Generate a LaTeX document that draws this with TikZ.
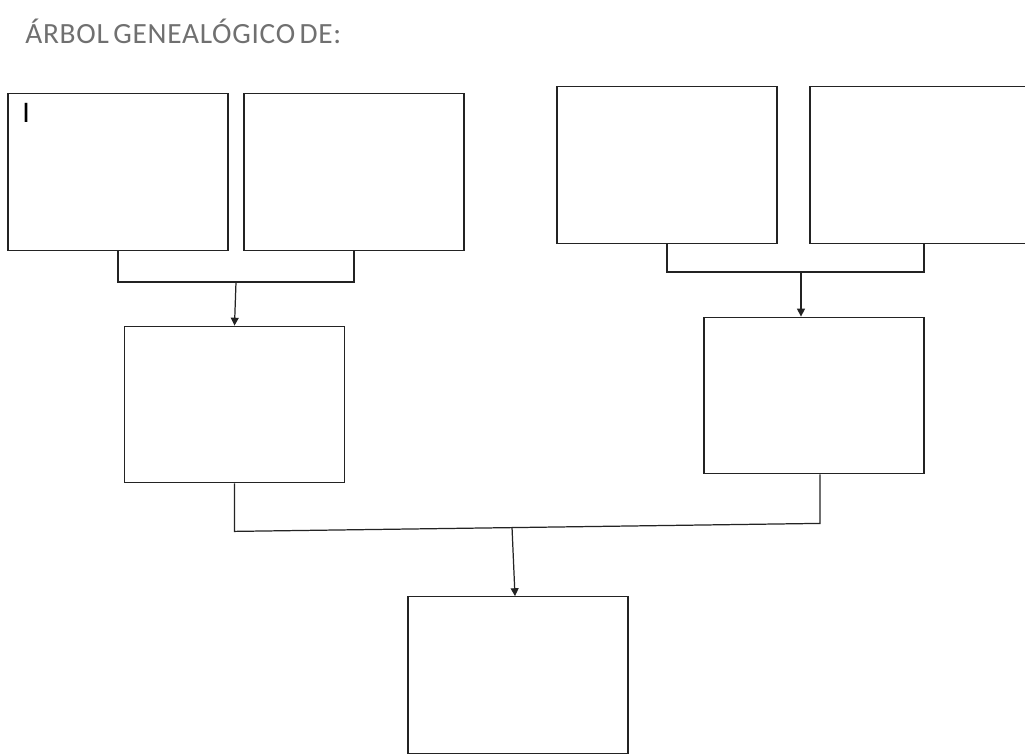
\documentclass[tikz,border=0pt]{standalone}
\usepackage{fontspec}
\setmainfont{Carlito}
\newfontfamily\titulofont[LetterSpace=2.5, WordSpace=0.6]{Carlito}
\usetikzlibrary{arrows.meta, positioning, calc}
\definecolor{titulogris}{RGB}{112,112,112}
\definecolor{bordeosc}{RGB}{35,35,35}
\tikzset{
  caja/.style={rectangle, draw=bordeosc, fill=white, line width=0.75pt, minimum width=4.4cm, minimum height=3.13cm, inner sep=0pt},
  union/.style={draw=bordeosc, line width=0.7pt},
  flecha/.style={union, -{Triangle[length=4.5pt, width=4.5pt]}}
}

\begin{document}
\begin{tikzpicture}[x=0.02cm, y=-0.02cm]
  \useasboundingbox (0,0) rectangle (1025,754);
  \clip (0,0) rectangle (1025,754);
  % Título
  \node (titulo) [anchor=base west, text=titulogris, font=\titulofont\fontsize{16.7}{19}\selectfont, inner sep=0pt] at (25,43) {ÁRBOL GENEALÓGICO DE:};
  % Abuelos (izquierda)
  \node (abueloA) [caja] at (118,172) {};
  \node (abuelaA) [caja] at (354,172) {};
  \node (cursor) [anchor=north west, inner sep=0pt, font=\fontsize{17}{20}\selectfont] at (22,103) {I};
  % Abuelos (derecha)
  \node (abueloB) [caja] at (667,165) {};
  \node (abuelaB) [caja, minimum width=4.56cm] at (924,165) {};
  % Padres
  \node (padre) [caja] at (234.5,404.5) {};
  \node (madre) [caja] at (814,395.5) {};
  % Hijo
  \node (hijo) [caja] at (518,675) {};
  % Uniones de los abuelos
  \draw [union] (abueloA.south) -- ++(0,31) -| (abuelaA.south);
  \coordinate (unionA) at ($(abueloA.south)!0.5!(abuelaA.south)+(0,31)$);
  \draw [flecha] (unionA) -- (padre.north);
  \draw [union] (abueloB.south) -- ++(0,28) -| (abuelaB.south);
  \coordinate (unionB) at (801,271);
  \draw [flecha] (unionB) -- (unionB |- madre.north);
  % Unión de los padres
  \draw [union] (padre.south) -- ++(0,48) coordinate (codoP) -- ($(madre.south)+(6,49)$) coordinate (codoM) -- ($(madre.south)+(6,0)$);
  \coordinate (unionP) at ($(codoP)!0.474!(codoM)$);
  \draw [flecha] (unionP) -- ($(hijo.north)+(-3,0)$);
\end{tikzpicture}
\end{document}
